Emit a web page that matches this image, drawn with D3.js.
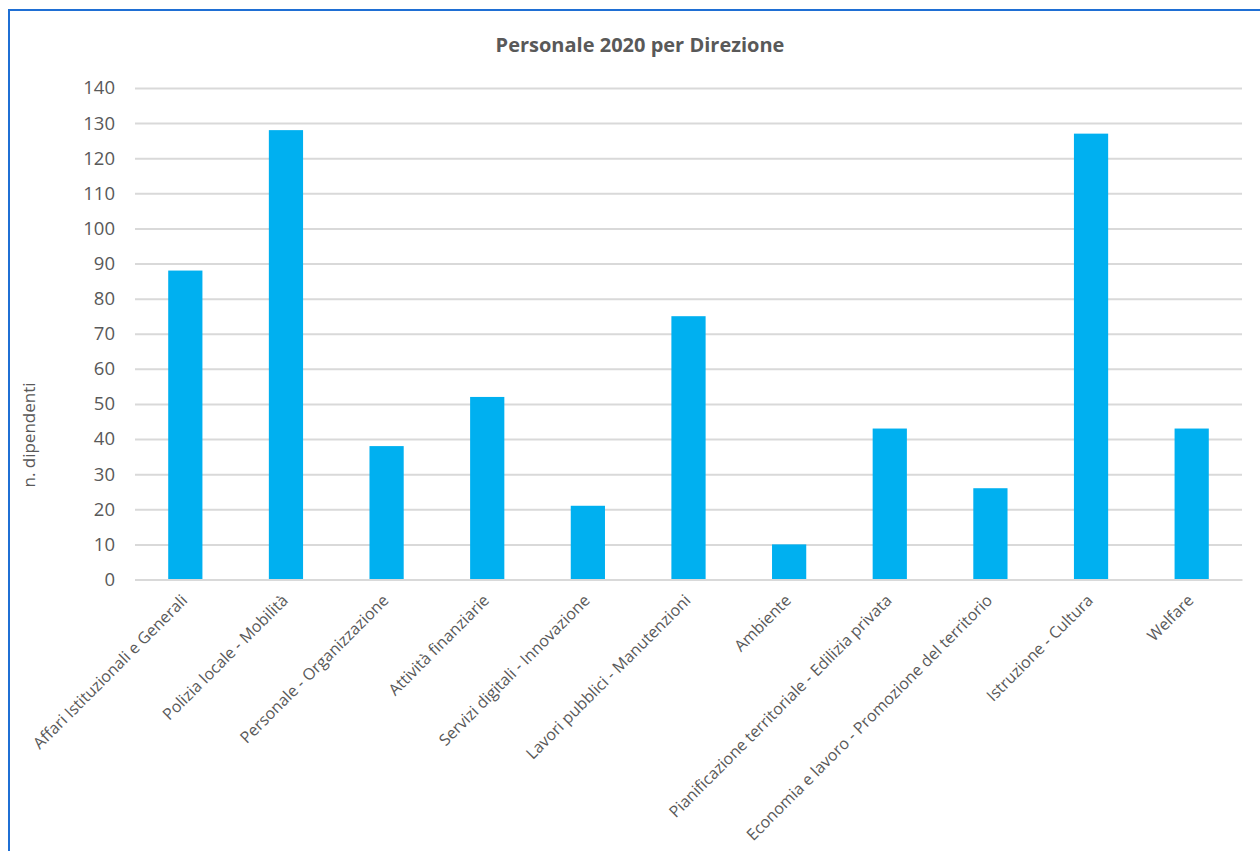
<!DOCTYPE html>
<html><head><meta charset="utf-8">
<script src="https://cdn.jsdelivr.net/npm/d3@7"></script>
<style>body{margin:0;background:#fff;} svg{display:block;}</style>
</head><body>
<svg id="c" width="1260" height="851"></svg>
<script>
const categories = ["Affari Istituzionali e Generali","Polizia locale - Mobilità","Personale - Organizzazione","Attività finanziarie","Servizi digitali - Innovazione","Lavori pubblici - Manutenzioni","Ambiente","Pianificazione territoriale - Edilizia privata","Economia e lavoro - Promozione del territorio","Istruzione - Cultura","Welfare"];
const values = [88,128,38,52,21,75,10,43,26,127,43];
const yTicks = [0,10,20,30,40,50,60,70,80,90,100,110,120,130,140];
const title = "Personale 2020 per Direzione";
const yTitle = "n. dipendenti";

const svg = d3.select("#c");
const font = "'Open Sans', sans-serif";
svg.append("rect").attr("x",9).attr("y",10).attr("width",1300).attr("height",900)
  .attr("fill","#fff").attr("stroke","#1f6fd4").attr("stroke-width",2);

const x = d3.scaleBand().domain(categories).range([135,1242]).paddingInner(0.66).paddingOuter(0.33);
const y = d3.scaleLinear().domain([0,140]).range([579.5,88]);

const gy = svg.append("g").attr("transform","translate(135,0)")
  .call(d3.axisLeft(y).tickValues(yTicks).tickSize(-(1242-135)).tickPadding(20));
gy.select(".domain").remove();
gy.selectAll(".tick line").attr("stroke","#d9d9d9").attr("stroke-width",2);
gy.selectAll(".tick text").attr("fill","#595959").style("font-family",font).style("font-size","18.5px");

svg.append("g").selectAll("rect").data(values).join("rect")
  .attr("x",(d,i)=>x(categories[i])).attr("width",x.bandwidth())
  .attr("y",d=>y(d)).attr("height",d=>y(0)-y(d)).attr("fill","#00b0f0");

const gx = svg.append("g").attr("transform",`translate(0,${y(0)})`)
  .call(d3.axisBottom(x).tickSize(0).tickPadding(0));
gx.select(".domain").attr("stroke","#d9d9d9").attr("stroke-width",2);
gx.selectAll(".tick text").attr("fill","#595959").style("font-family",font).style("font-size","16px")
  .attr("text-anchor","end").attr("dy",null).attr("transform","translate(3,22) rotate(-45)");

svg.append("text").attr("x",640).attr("y",52).attr("text-anchor","middle")
  .attr("fill","#595959").style("font-family",font).style("font-size","20px").style("font-weight","bold").text(title);
svg.append("text").attr("transform","translate(35,435) rotate(-90)").attr("text-anchor","middle")
  .attr("fill","#595959").style("font-family",font).style("font-size","17px").text(yTitle);
</script>
</body></html>
